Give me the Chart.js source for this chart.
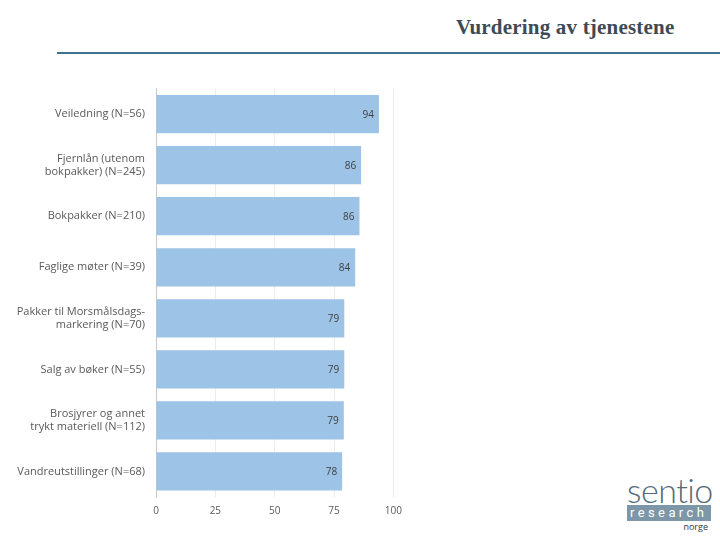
<!DOCTYPE html>
<html>
<head>
<meta charset="utf-8">
<script src="https://cdn.jsdelivr.net/npm/chart.js@4/dist/chart.umd.min.js"></script>
<style>
  body { margin: 0; width: 720px; height: 540px; background: #fff; position: relative; overflow: hidden; font-family: "Open Sans", sans-serif; }
  #tittel { position: absolute; left: 456px; top: 15px; font-family: "Liberation Serif", serif; font-weight: bold; font-size: 21px; color: #404a55; letter-spacing: 0.2px; white-space: nowrap; }
  #strek { position: absolute; left: 57px; top: 52px; width: 663px; height: 2px; background: #3f7290; }
  #boks { position: absolute; left: 0; top: 71px; width: 410px; height: 454px; }
  #logo { position: absolute; left: 627px; top: 475px; width: 84px; }
  #logo .s { font-family: "Lato", sans-serif; font-weight: 300; font-size: 34px; color: #55697a; line-height: 30px; letter-spacing: -0.5px; }
  #logo .r { background: #7d96a8; color: #fff; font-family: "Roboto", sans-serif; font-size: 13px; line-height: 16px; letter-spacing: 3.4px; padding-left: 3px; }
  #logo .n { text-align: right; font-size: 9px; color: #333; margin-right: 3px; line-height: 12px; }
</style>
</head>
<body>
<div id="tittel">Vurdering av tjenestene</div>
<div id="strek"></div>
<div id="boks"><canvas id="grafVurdering"></canvas></div>
<div id="logo"><div class="s">sentio</div><div class="r">research</div><div class="n">norge</div></div>
<script>
// Kategorier og verdier
var kategorier = [
    "Veiledning (N=56)",
    ["Fjernlån (utenom", "bokpakker) (N=245)"],
    "Bokpakker (N=210)",
    "Faglige møter (N=39)",
    ["Pakker til Morsmålsdags-", "markering (N=70)"],
    "Salg av bøker (N=55)",
    ["Brosjyrer og annet", "trykt materiell (N=112)"],
    "Vandreutstillinger (N=68)"
];
var verdier = [93.9, 86.4, 85.7, 83.9, 79.3, 79.3, 79.1, 78.4];
var etiketter = ["94", "86", "86", "84", "79", "79", "79", "78"];
var xTicks = [0, 25, 50, 75, 100];

// Tall inne i søylene
var verdiEtiketter = {
    id: "verdiEtiketter",
    afterDatasetsDraw: function(chart){
        var ctx = chart.ctx;
        var meta = chart.getDatasetMeta(0);
        ctx.save();
        ctx.font = "10px 'Open Sans', sans-serif";
        ctx.fillStyle = "#404040";
        ctx.textAlign = "right";
        ctx.textBaseline = "middle";
        meta.data.forEach(function(bar, i){
            ctx.fillText(etiketter[i], bar.x - 5, bar.y + 1);
        });
        ctx.restore();
    }
};

var config = {
    type: "bar",
    data: {
        labels: kategorier,
        datasets: [{
            data: verdier,
            backgroundColor: "#9dc3e6",
            borderWidth: 0,
            categoryPercentage: 0.75,
            barPercentage: 1
        }]
    },
    options: {
        indexAxis: "y",
        responsive: true,
        maintainAspectRatio: false,
        animation: false,
        layout: { padding: { top: 7, right: 16, left: 0, bottom: 0 } },
        plugins: { legend: { display: false }, tooltip: { enabled: false } },
        scales: {
            x: {
                min: 0,
                max: 100,
                afterBuildTicks: function(axis){
                    axis.ticks = xTicks.map(function(v){ return { value: v }; });
                },
                afterFit: function(axis){ axis.height = 28; },
                grid: { color: "#ececec", drawTicks: false },
                border: { display: false },
                ticks: { padding: 8, color: "#595959", font: { size: 10, family: "'Open Sans', sans-serif" } }
            },
            y: {
                afterFit: function(axis){ axis.width = 156; },
                grid: { display: false, drawTicks: false },
                border: { display: true, color: "#c8c8c8" },
                ticks: { padding: 11, color: "#595959", font: { size: 11, family: "'Open Sans', sans-serif" } }
            }
        }
    },
    plugins: [verdiEtiketter]
};

var ctx = new Chart(document.getElementById("grafVurdering"), config);
</script>
</body>
</html>
